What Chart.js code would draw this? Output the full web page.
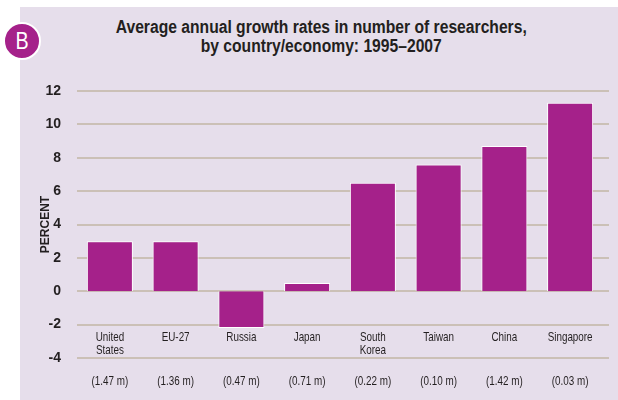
<!DOCTYPE html>
<html>
<head>
<meta charset="utf-8">
<script src="https://cdn.jsdelivr.net/npm/chart.js@4"></script>
<style>
  html, body { margin: 0; padding: 0; background: #fff; }
  #wrap { position: relative; width: 618px; height: 400px; overflow: hidden; }
  #panel { position: absolute; left: 20px; top: 7px; right: 0; bottom: 0; background: #e6deeb; }
  #badge {
    position: absolute; left: 3px; top: 22px; width: 34px; height: 34px;
    border-radius: 50%; background: #a5218a; border: 2px solid #fff;
    color: #fff; font: 24px/34px "Liberation Sans", Arial, sans-serif;
    text-align: center;
  }
  #badge span { display: inline-block; transform: scaleX(0.82); }
  #title {
    position: absolute; left: 60px; width: 523px; top: 18px; text-align: center;
  }
  #title span {
    display: inline-block; white-space: nowrap;
    font: bold 18px/19px "Liberation Sans", Arial, sans-serif;
    color: #231f20; transform: scaleX(0.87);
  }
  canvas { position: absolute; left: 0; top: 0; }
</style>
</head>
<body>
<div id="wrap">
  <div id="panel"></div>
  <div id="badge"><span>B</span></div>
  <div id="title"><span>Average annual growth rates in number of researchers,<br>by country/economy: 1995–2007</span></div>
  <canvas id="chart" width="618" height="400"></canvas>
</div>
<script>
// growth rates, % per year, 1995-2007
const countries = [['United', 'States'], ['EU-27'], ['Russia'], ['Japan'], ['South', 'Korea'], ['Taiwan'], ['China'], ['Singapore']];
const researchers = ['(1.47 m)', '(1.36 m)', '(0.47 m)', '(0.71 m)', '(0.22 m)', '(0.10 m)', '(1.42 m)', '(0.03 m)'];
const growth = [3.0, 3.0, -2.2, 0.5, 6.5, 7.6, 8.7, 11.3];
const yTicks = [-4, -2, 0, 2, 4, 6, 8, 10, 12];

const barColor = '#a5218a';
const gridColor = '#cbc0b6';
const textColor = '#231f20';

// horizontal rules, running a little past the plot on the right
const gridLines = {
  id: 'gridLines',
  beforeDatasetsDraw(chart) {
    const { ctx, chartArea, scales } = chart;
    ctx.save();
    ctx.strokeStyle = gridColor;
    ctx.lineWidth = 2;
    yTicks.forEach(v => {
      const y = Math.round(scales.y.getPixelForValue(v));
      ctx.beginPath();
      ctx.moveTo(chartArea.left, y);
      ctx.lineTo(chartArea.right + 6, y);
      ctx.stroke();
    });
    ctx.restore();
  }
};

// country names sit inside the plot, headcounts underneath (narrowed type)
const categoryLabels = {
  id: 'categoryLabels',
  afterDatasetsDraw(chart) {
    const { ctx, scales } = chart;
    ctx.save();
    ctx.fillStyle = textColor;
    ctx.textAlign = 'center';
    ctx.textBaseline = 'alphabetic';
    ctx.font = '13.5px "Liberation Sans", Arial, sans-serif';
    countries.forEach((lines, i) => {
      const x = scales.x.getPixelForValue(i);
      ctx.save();
      ctx.translate(x, 0);
      ctx.scale(0.73, 1);
      lines.forEach((t, j) => ctx.fillText(t, 0, 341 + j * 13));
      ctx.fillText(researchers[i], 0, 385);
      ctx.restore();
    });
    ctx.restore();
  }
};

new Chart(document.getElementById('chart'), {
  type: 'bar',
  data: {
    labels: countries.map(c => c.join(' ')),
    datasets: [{
      data: growth,
      backgroundColor: barColor,
      borderColor: '#ffffff',
      borderWidth: 1,
      categoryPercentage: 1,
      barPercentage: 0.7
    }]
  },
  options: {
    responsive: false,
    animation: false,
    layout: { padding: { left: 20, right: 15, top: 91, bottom: 42 } },
    plugins: {
      legend: { display: false },
      tooltip: { enabled: false }
    },
    scales: {
      x: { display: false },
      y: {
        min: -4,
        max: 12,
        afterBuildTicks: s => { s.ticks = yTicks.map(v => ({ value: v })); },
        afterFit: s => { s.width = 57; },
        grid: { display: false },
        border: { display: false },
        ticks: {
          padding: 8,
          color: textColor,
          font: { family: '"Liberation Sans", Arial, sans-serif', size: 14, weight: 'bold' }
        },
        title: {
          display: true,
          text: 'PERCENT',
          color: textColor,
          padding: { top: 18, bottom: 0 },
          font: { family: '"Liberation Sans", Arial, sans-serif', size: 12, weight: 'bold' }
        }
      }
    }
  },
  plugins: [gridLines, categoryLabels]
});
</script>
</body>
</html>
